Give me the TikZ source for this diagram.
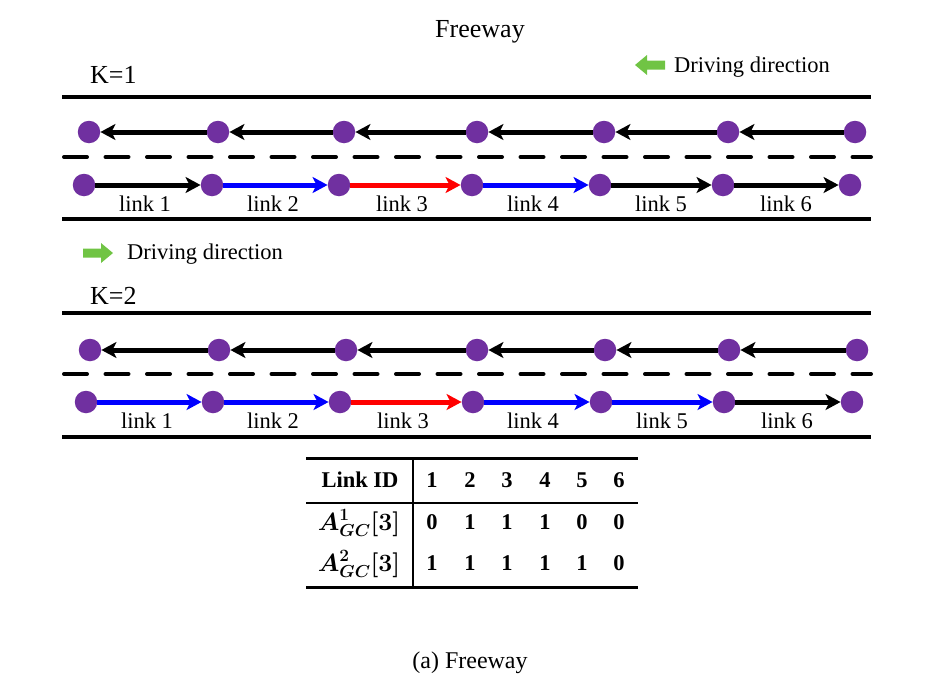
\documentclass[tikz,border=0pt]{standalone}
\usepackage{fontspec}
\setmainfont{Liberation Serif}
\usepackage{amsmath}
\usepackage{bm}
\usetikzlibrary{arrows.meta}
\definecolor{nodepurple}{RGB}{112,48,160}
\definecolor{drivegreen}{RGB}{112,196,68}
\definecolor{linkblue}{RGB}{0,0,255}
\definecolor{linkred}{RGB}{255,0,0}
\newcommand{\agc}[1]{\ensuremath{\bm{A}^{\bm{#1}}_{\bm{GC}}\bm{[3]}}}
\begin{document}
\begin{tikzpicture}[x=1pt,y=-1pt,
  dot/.style={circle,fill=nodepurple,minimum size=22.5pt,inner sep=0pt},
  road/.style={line width=4pt},
  lanesep/.style={line width=4pt,line cap=round,dash pattern=on 23pt off 18.5pt},
  linkarr/.style={line width=5pt,-{Stealth[length=15pt,width=16pt,inset=4pt]}},
  lbl/.style={font=\fontsize{22.5}{27}\selectfont,inner sep=0pt},
  big/.style={font=\fontsize{26}{31}\selectfont,inner sep=0pt},
  tb/.style={font=\fontsize{22.5}{27}\selectfont\bfseries,inner sep=0pt,anchor=base},
  tm/.style={font=\fontsize{24.5}{29}\selectfont,inner sep=0pt,anchor=base},
  greenarrow/.style={fill=drivegreen}
]
\useasboundingbox (0,0) rectangle (932,680);

% title and caption
\node[big,anchor=base] (title) at (480,37) {Freeway};
\node[lbl,font=\fontsize{24}{29}\selectfont,anchor=base] (caption) at (470,668) {(a) Freeway};

% ---------- K = 1 ----------
\node[big,anchor=base west] (k1) at (90,83) {K=1};
\fill[greenarrow] (635,65) -- (647,55) -- (647,60.5) -- (665,60.5) -- (665,69.5) -- (647,69.5) -- (647,75) -- cycle;
\node[lbl,anchor=base west] (dd1) at (674,72) {Driving direction};

\coordinate (r1a) at (62,97);  \coordinate (r1b) at (871,97);
\coordinate (d1a) at (64,157); \coordinate (d1b) at (871,157);
\coordinate (b1a) at (62,219); \coordinate (b1b) at (871,219);
\draw[road] (r1a) -- (r1b);
\draw[lanesep] (d1a) -- (d1b);
\draw[road] (b1a) -- (b1b);

\foreach \x [count=\i] in {89,218,344,477,604,728,855}
  \node[dot] (ua\i) at (\x,132) {};
\foreach \x [count=\i] in {84,212,339,472,600,723,850}
  \node[dot] (la\i) at (\x,185) {};

\foreach \i/\j in {2/1,3/2,4/3,5/4,6/5,7/6}
  \draw[linkarr,black] (ua\i) -- (ua\j);
\foreach \i/\j/\c in {1/2/black,2/3/linkblue,3/4/linkred,4/5/linkblue,5/6/black,6/7/black}
  \draw[linkarr,\c] (la\i) -- (la\j);

\foreach \x [count=\i] in {145,273,402,533,661,786}
  \node[lbl,anchor=base] (lka\i) at (\x,211) {link \i};

% ---------- K = 2 ----------
\fill[greenarrow] (113,253) -- (101,243) -- (101,248.5) -- (83,248.5) -- (83,257.5) -- (101,257.5) -- (101,263) -- cycle;
\node[lbl,anchor=base west] (dd2) at (127,259) {Driving direction};
\node[big,anchor=base west] (k2) at (90,304) {K=2};

\coordinate (r2a) at (62,313);  \coordinate (r2b) at (871,313);
\coordinate (d2a) at (64,374); \coordinate (d2b) at (871,374);
\coordinate (b2a) at (62,437); \coordinate (b2b) at (871,437);
\draw[road] (r2a) -- (r2b);
\draw[lanesep] (d2a) -- (d2b);
\draw[road] (b2a) -- (b2b);

\foreach \x [count=\i] in {90,219,346,477,605,729,857}
  \node[dot] (ub\i) at (\x,350) {};
\foreach \x [count=\i] in {86,213,340,473,601,724,852}
  \node[dot] (lb\i) at (\x,402) {};

\foreach \i/\j in {2/1,3/2,4/3,5/4,6/5,7/6}
  \draw[linkarr,black] (ub\i) -- (ub\j);
\foreach \i/\j/\c in {1/2/linkblue,2/3/linkblue,3/4/linkred,4/5/linkblue,5/6/linkblue,6/7/black}
  \draw[linkarr,\c] (lb\i) -- (lb\j);

\foreach \x [count=\i] in {147,273,403,533,662,787}
  \node[lbl,anchor=base] (lkb\i) at (\x,428) {link \i};

% ---------- table ----------
\coordinate (t1a) at (306,458); \coordinate (t1b) at (638,458);
\coordinate (t2a) at (306,503); \coordinate (t2b) at (638,503);
\coordinate (t3a) at (306,587); \coordinate (t3b) at (638,587);
\coordinate (tva) at (413,458); \coordinate (tvb) at (413,587);
\draw[line width=3pt] (t1a) -- (t1b);
\draw[line width=1.8pt] (t2a) -- (t2b);
\draw[line width=3pt] (t3a) -- (t3b);
\draw[line width=1.8pt] (tva) -- (tvb);

\node[tb] (hdr) at (360,487) {Link ID};
\node[tm] (row1) at (359,530) {\agc{1}};
\node[tm] (row2) at (359,571) {\agc{2}};
\foreach \x/\h/\a/\b [count=\i] in {432/1/0/1,470/2/1/1,507/3/1/1,545/4/1/1,582/5/0/1,619/6/0/0}{
  \node[tb] (h\i) at (\x,487) {\h};
  \node[tb] (ra\i) at (\x,529) {\a};
  \node[tb] (rb\i) at (\x,570) {\b};
}
\end{tikzpicture}
\end{document}
